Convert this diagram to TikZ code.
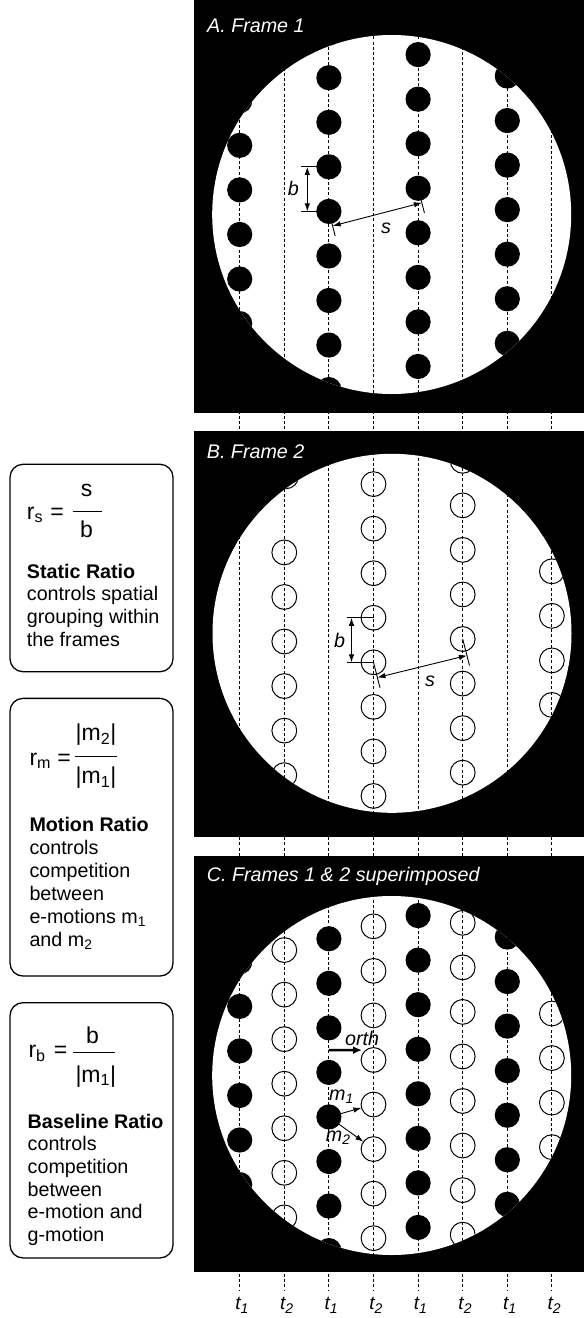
\documentclass[tikz,border=0pt]{standalone}
\usepackage{fontspec}
\setmainfont{Liberation Sans}
\usetikzlibrary{arrows.meta,calc}
\newcommand\FilledSet[1]{%
  \foreach \kk/\yb in {0/-24.6,2/-3.1,4/18.3,6/39.7}{%
    \foreach \jj in {-5,...,5}{%
      \fill ({239.7+44.6*\kk},{#1+(\yb)+44.55*(\jj)}) circle[radius=12.6];}}}
\newcommand\OpenCol[3]{% #1 cy, #2 column, #3 base
  \foreach \jj in {-5,...,5}{%
    \draw[odot] ({239.7+44.6*#2},{#1+(#3)+44.55*(\jj)}) circle[radius=12.4];}}
\newcommand\TSub[1]{\raisebox{-0.24em}{\fontsize{14}{14}\selectfont #1}}
\begin{document}
\begin{tikzpicture}[x=1pt,y=-1pt,
  txt/.style={inner sep=0pt, font=\fontsize{19.7}{22.7}\selectfont},
  ftxt/.style={inner sep=0pt, font=\fontsize{23}{26}\selectfont},
  tlab/.style={inner sep=0pt, anchor=base, font=\fontsize{19}{21}\selectfont\itshape},
  plabel/.style={inner sep=0pt, anchor=base west, text=white, font=\fontsize{19.7}{22.7}\selectfont\itshape},
  alab/.style={inner sep=0pt, font=\fontsize{19.7}{22.7}\selectfont\itshape},
  dashline/.style={dash pattern=on 3pt off 2.2pt, line width=0.9pt},
  odot/.style={draw=black, line width=1pt},
  dimline/.style={line width=0.9pt},
  dimarrow/.style={line width=0.9pt, {Latex[length=8pt,width=5.5pt]}-{Latex[length=8pt,width=5.5pt]}},
  marrow/.style={line width=0.9pt, -{Latex[length=8pt,width=5.5pt]}, shorten >=12.5pt},
  rbox/.style={draw, line width=1.3pt, rounded corners=13pt, inner sep=0pt, minimum width=163pt},
  fracline/.style={line width=0.8pt}
]
\useasboundingbox (0,0) rectangle (584,1318);
\fill[white] (0,0) rectangle (584,1318);

% ---------- panels ----------
\fill[black] (194,0) rectangle (584,412.7);
\fill[white] (391.7,214.5) circle[radius=179.5];
\fill[black] (194,431.3) rectangle (584,836.7);
\fill[white] (392,633.3) circle[radius=179.5];
\fill[black] (194,855.7) rectangle (584,1272.3);
\fill[white] (391.7,1075.5) circle[radius=179.5];

% ---------- dashed time lines ----------
\foreach \k in {0,...,7}{
  \coordinate (top\k) at ({239.7+44.6*\k},0);
  \coordinate (bot\k) at ({239.7+44.6*\k},1291);
  \draw[dashline] (top\k) -- (bot\k);
}

% ---------- dots ----------
\begin{scope}
  \clip (391.7,214.5) circle[radius=179.5];
  \FilledSet{214.5}
\end{scope}
\begin{scope}
  \clip (392,633.3) circle[radius=179.5];
  \foreach \jj in {-2,...,5}{\draw[odot] (284.3,{633.3+8.2+44.55*(\jj)}) circle[radius=12.4];}
  \draw[odot] (286,476.3) circle[radius=12.4];
  \OpenCol{633.3}{3}{-15.55}
  \OpenCol{633.3}{5}{5.7}
  \OpenCol{633.3}{7}{27.1}
\end{scope}
\begin{scope}
  \clip (391.7,1075.5) circle[radius=179.5];
  \FilledSet{1075.5}
  \OpenCol{1075.5}{1}{8.2}
  \OpenCol{1075.5}{3}{-15.55}
  \OpenCol{1075.5}{5}{25.5}
  \OpenCol{1075.5}{7}{27.1}
\end{scope}

% ---------- panel labels ----------
\node[plabel] (labA) at (207,32) {A. Frame 1};
\node[plabel] (labB) at (206.7,458.3) {B. Frame 2};
\node[plabel] (labC) at (206.7,881.7) {C. Frames 1 \& 2 superimposed};

% ---------- annotations panel A ----------
\coordinate (A2m1) at (328.9,166.85);
\coordinate (A2z) at (328.9,211.4);
\coordinate (A4m1) at (418.1,188.25);
\coordinate (bA1) at (300.5,166.85);
\coordinate (bA2) at (300.5,211.4);
\coordinate (bA1a) at (307.3,166.85);
\coordinate (bA2a) at (307.3,211.4);
\draw[dimline] (bA1) -- (A2m1);
\draw[dimline] (bA2) -- (A2z);
\draw[dimarrow] (bA1a) -- (bA2a);
\node[alab] (bAl) at (293.3,188.5) {b};
\coordinate (sA1) at ($(A2z)+(3.8,14.5)$);
\coordinate (sA1t) at ($(A2z)+(6.3,24.6)$);
\coordinate (sA2) at ($(A4m1)+(3.8,14.5)$);
\coordinate (sA2t) at ($(A4m1)+(6.3,24.6)$);
\draw[dimline] (A2z) -- (sA1t);
\draw[dimline] (A4m1) -- (sA2t);
\draw[dimarrow] (sA1) -- (sA2);
\node[alab] (sAl) at (386,228.5) {s};

% ---------- annotations panel B ----------
\coordinate (B3z) at (373.5,617.75);
\coordinate (B3p1) at (373.5,662.3);
\coordinate (B5z) at (462.7,639);
\coordinate (bB1) at (346.7,617.75);
\coordinate (bB2) at (346.7,662.3);
\coordinate (bB1a) at (351.5,617.75);
\coordinate (bB2a) at (351.5,662.3);
\draw[dimline] (bB1) -- (B3z);
\draw[dimline] (bB2) -- (B3p1);
\draw[dimarrow] (bB1a) -- (bB2a);
\node[alab] (bBl) at (339.5,640) {b};
\coordinate (sB1) at ($(B3p1)+(3.9,15.2)$);
\coordinate (sB1t) at ($(B3p1)+(6.5,25.5)$);
\coordinate (sB2) at ($(B5z)+(4.2,16.5)$);
\coordinate (sB2t) at ($(B5z)+(6.8,26.5)$);
\draw[dimline] (B3p1) -- (sB1t);
\draw[dimline] (B5z) -- (sB2t);
\draw[dimarrow] (sB1) -- (sB2);
\node[alab] (sBl) at (430,681.5) {s};

% ---------- annotations panel C ----------
\coordinate (C2m1) at (328.9,1027.85);
\coordinate (C2z) at (328.9,1072.4);
\coordinate (C2p1) at (328.9,1116.95);
\coordinate (C3p1) at (373.5,1104.5);
\coordinate (C3p2) at (373.5,1149.05);
\coordinate (orthS) at ($(C2m1)!0.5!(C2z)$);
\coordinate (orthE) at (362,1050.1);
\draw[line width=2.6pt, -{Latex[length=9pt,width=8pt]}] (orthS) -- (orthE);
\node[alab, anchor=base west] (orthl) at (345,1045) {orth};
\draw[marrow] (C2p1) -- (C3p1);
\draw[marrow] (C2p1) -- (C3p2);
\node[alab, anchor=base west] (m1l) at (329,1100) {m\textsubscript{1}};
\node[alab, anchor=base west] (m2l) at (325.7,1141.7) {m\textsubscript{2}};

% ---------- time labels ----------
\foreach \k/\n in {0/1,1/2,2/1,3/2,4/1,5/2,6/1,7/2}{
  \node[tlab] (t\k) at ({242+44.6*\k},1309) {t\TSub{\n}};
}

% ---------- side boxes ----------
\node[rbox, minimum height=207.4pt] (box1) at (91.5,568) {};
\node[rbox, minimum height=277.7pt] (box2) at (91.5,837.2) {};
\node[rbox, minimum height=255.3pt] (box3) at (91.5,1130.3) {};

% box 1 formula
\node[ftxt, anchor=base west] (rs) at (26.7,519) {r\textsubscript{s}};
\node[ftxt, anchor=base] (eq1) at (57,519) {=};
\coordinate (f1a) at (72.7,511);
\coordinate (f1b) at (101.7,511);
\draw[fracline] (f1a) -- (f1b);
\node[ftxt, anchor=base] (n1) at (86.5,496.5) {s};
\node[ftxt, anchor=base] (d1) at (86.5,537.5) {b};
\foreach \t [count=\i] in {\textbf{Static Ratio},controls spatial,grouping within,the frames}{
  \node[txt, anchor=base west] (ba\i) at (26.7,{578+22.7*(\i-1)}) {\t};
}

% box 2 formula
\node[ftxt, anchor=base west] (rm) at (29.3,765) {r\textsubscript{m}};
\node[ftxt, anchor=base] (eq2) at (64.2,765) {=};
\coordinate (f2a) at (75,756);
\coordinate (f2b) at (116.7,756);
\draw[fracline] (f2a) -- (f2b);
\node[ftxt, anchor=base] (n2) at (96,740.5) {|m\textsubscript{2}|};
\node[ftxt, anchor=base] (d2) at (96,783.5) {|m\textsubscript{1}|};
\foreach \t [count=\i] in {\textbf{Motion Ratio},controls,competition,between,e-motions m\textsubscript{1},and m\textsubscript{2}}{
  \node[txt, anchor=base west] (bb\i) at (29.3,{831+23*(\i-1)}) {\t};
}

% box 3 formula
\node[ftxt, anchor=base west] (rb) at (28.3,1057.5) {r\textsubscript{b}};
\node[ftxt, anchor=base] (eq3) at (60.5,1057.5) {=};
\coordinate (f3a) at (73.3,1052.7);
\coordinate (f3b) at (115,1052.7);
\draw[fracline] (f3a) -- (f3b);
\node[ftxt, anchor=base] (n3) at (92.5,1043) {b};
\node[ftxt, anchor=base] (d3) at (95.8,1082) {|m\textsubscript{1}|};
\foreach \t [count=\i] in {\textbf{Baseline Ratio},controls,competition,between,e-motion and,g-motion}{
  \node[txt, anchor=base west] (bc\i) at (27.5,{1128+22.7*(\i-1)}) {\t};
}
\end{tikzpicture}
\end{document}
